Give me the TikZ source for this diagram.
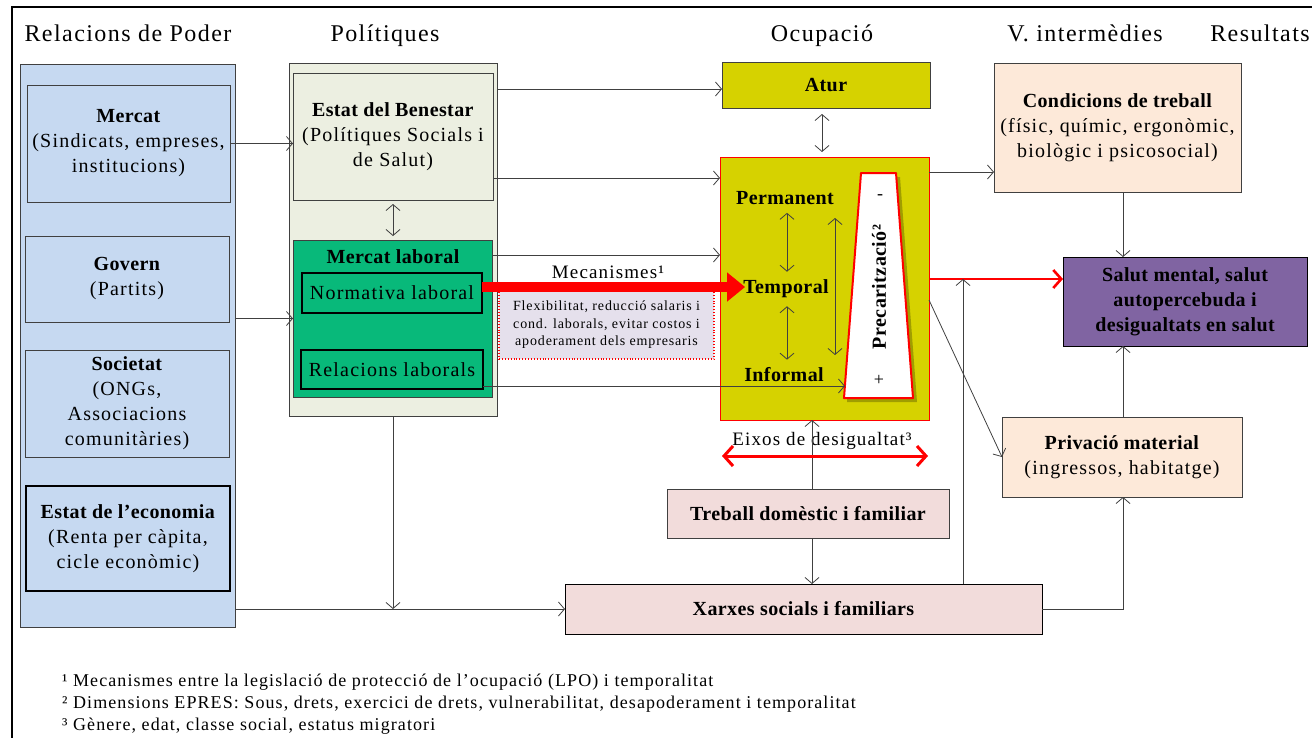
\documentclass[tikz,border=0pt]{standalone}
\usepackage{fontspec}
\setmainfont{Liberation Serif}[UprightFeatures={LetterSpace=6},BoldFeatures={LetterSpace=2}]
\usetikzlibrary{arrows.meta,calc}

\newcommand\fsz[2]{\fontsize{#1}{#2}\selectfont}

\definecolor{poderblue}{RGB}{198,217,241}
\definecolor{polgrey}{RGB}{236,239,225}
\definecolor{labgreen}{RGB}{8,185,122}
\definecolor{olive}{RGB}{214,210,0}
\definecolor{peach}{RGB}{253,233,217}
\definecolor{rosy}{RGB}{242,220,219}
\definecolor{salutpurple}{RGB}{128,100,162}
\definecolor{lavender}{RGB}{229,224,236}
\definecolor{edge}{RGB}{64,64,64}

\begin{document}
\begin{tikzpicture}[x=1pt,y=-1pt,
  >={Straight Barb[length=6pt,width=14pt]},
  conn/.style={->,draw=edge,line width=0.8pt},
  dconn/.style={<->,draw=edge,line width=0.8pt},
  box/.style={draw=edge,line width=0.9pt,anchor=north west,inner sep=0pt,
    outer sep=0pt,align=center,font=\fsz{20}{25}},
  head/.style={font=\fsz{24}{28},anchor=base},
  lbl/.style={font=\bfseries\fsz{20}{25},inner sep=0pt},
  note/.style={font=\fsz{18}{22},anchor=base west,inner sep=0pt},
  redarrow/.style={draw=red,line width=2.6pt,
    -{Straight Barb[length=8pt,width=18pt]}},
]
\useasboundingbox (0,0) rectangle (1312,737);

% outer frame
\draw[line width=1.4pt] (12,745) -- (12,7) -- (1320,7);

% column headings
\node[head] (h1) at (128,41) {Relacions de Poder};
\node[head] (h2) at (385,41) {Polítiques};
\node[head] (h3) at (822,41) {Ocupació};
\node[head] (h4) at (1085,41) {V. intermèdies};
\node[head] (h5) at (1260,41) {Resultats};

% ---- power relations column
\node[box,fill=poderblue,minimum width=215pt,minimum height=563pt] (poder) at (20,64) {};
\node[box,fill=poderblue,minimum width=203pt,minimum height=117pt] (mercat) at (27,85)
  {\textbf{Mercat}\\(Sindicats, empreses,\\institucions)};
\node[box,fill=poderblue,minimum width=204pt,minimum height=86pt] (govern) at (25,236)
  {\textbf{Govern}\\(Partits)};
\node[box,fill=poderblue,minimum width=204pt,minimum height=107pt] (societat) at (25,350)
  {\textbf{Societat}\\(ONGs,\\Associacions\\comunitàries)};
\node[box,draw=black,line width=2pt,fill=poderblue,minimum width=204pt,minimum height=105pt] (economia) at (26,486)
  {\textbf{Estat de l’economia}\\(Renta per càpita,\\cicle econòmic)};

% ---- policies column
\node[box,fill=polgrey,minimum width=208pt,minimum height=353pt] (politiques) at (289,63) {};
\node[box,fill=polgrey,minimum width=200pt,minimum height=127pt] (benestar) at (293,73)
  {\textbf{Estat del Benestar}\\(Polítiques Socials i\\de Salut)};
\node[box,fill=labgreen,minimum width=199pt,minimum height=157pt] (laboral) at (293,240) {};
\node[lbl] (laboraltitle) at (393,257) {Mercat laboral};
\node[box,draw=black,line width=2pt,fill=labgreen,minimum width=180pt,minimum height=40pt] (normativa) at (302,273)
  {Normativa laboral};
\node[box,draw=black,line width=2pt,fill=labgreen,minimum width=182pt,minimum height=39pt] (relacions) at (301,350)
  {Relacions laborals};

% mechanisms
\node[font=\fsz{19}{22},inner sep=0pt] (mecan) at (608,272) {Mecanismes¹};
\node[box,draw=red,dotted,line width=1.2pt,fill=lavender,minimum width=215pt,minimum height=68pt,
  font=\fsz{14}{17.5}] (flex) at (499,291)
  {Flexibilitat, reducció salaris i\\cond. laborals, evitar costos i\\apoderament dels empresaris};

% ---- employment column
\node[box,fill=olive,minimum width=208pt,minimum height=46pt,font=\bfseries\fsz{20}{25}] (atur) at (722,62) {Atur};
\node[box,draw=red,line width=0.9pt,fill=olive,minimum width=209pt,minimum height=263pt] (ocup) at (720,157) {};
\node[lbl] (permanent) at (785,198) {Permanent};
\node[lbl] (temporal) at (786,289) {Temporal};
\node[lbl] (informal) at (784,375) {Informal};

% precariousness wedge
\fill[black,opacity=0.25] (864,177) -- (900,177) -- (917,402) -- (847,402) -- cycle;
\draw[red,line width=2pt,fill=white,line join=round]
  (861,173) coordinate (trapTL) -- (896,173) coordinate (trapTR)
  -- (913,398) coordinate (trapBR) -- (844,398) coordinate (trapBL) -- cycle;
\node[lbl,rotate=90] (precar) at (879,287) {Precarització²};
\node[font=\fsz{18}{20},inner sep=0pt] (minus) at (880,197) {-};
\node[font=\fsz{18}{20},inner sep=0pt] (plus) at (879,380) {+};

% inequality axes
\node[font=\fsz{19}{22},inner sep=0pt] (eixos) at (822,441) {Eixos de desigualtat³};
\coordinate (eixL) at (722,456);
\coordinate (eixR) at (928,456);

\node[box,fill=rosy,minimum width=282pt,minimum height=49pt,font=\bfseries\fsz{20}{25}] (treball) at (667,489)
  {Treball domèstic i familiar};
\node[box,draw=black,fill=rosy,minimum width=477pt,minimum height=50pt,font=\bfseries\fsz{20}{25}] (xarxes) at (565,584)
  {Xarxes socials i familiars};

% ---- intermediate variables and outcomes
\node[box,fill=peach,minimum width=247pt,minimum height=129pt] (cond) at (994,63)
  {\textbf{Condicions de treball}\\(físic, químic, ergonòmic,\\biològic i psicosocial)};
\node[box,draw=black,fill=salutpurple,minimum width=244pt,minimum height=89pt,font=\bfseries\fsz{20}{25}] (salut) at (1063,257)
  {Salut mental, salut\\autopercebuda i\\desigualtats en salut};
\node[box,fill=peach,minimum width=240pt,minimum height=80pt] (priv) at (1002,417)
  {\textbf{Privació material}\\(ingressos, habitatge)};

% ---- connector end points
\coordinate (aturIn) at ($(atur.west)+(0,4)$);
\coordinate (polAtur) at (politiques.east |- aturIn);
\coordinate (benOut) at ($(benestar.south east)+(0,-22)$);
\coordinate (labOut) at ($(laboral.north east)+(0,15)$);
\coordinate (relOut) at ($(relacions.south east)+(0,-3)$);
\coordinate (trapIn) at (845,386);
\coordinate (ocupTop) at ($(ocup.north east)+(0,15)$);
\coordinate (redStart) at ($(ocup.north east)+(0,122)$);
\coordinate (ocupDiag) at ($(ocup.north east)+(0,143)$);
\coordinate (aturMid) at (822,108);
\coordinate (ocupMid) at (822,157);
\coordinate (vertX) at (812,0);
\coordinate (rightX) at (1123,0);
\coordinate (riseX) at (963,0);
\coordinate (mechY) at (0,287);

% ---- connectors
\draw[conn] (mercat.east) -- (mercat.east -| benestar.west);
\draw[conn] (laboral.west -| poder.east) -- (laboral.west);
\draw[conn] (polAtur) -- (aturIn);
\draw[conn] (benOut) -- (benOut -| ocup.west);
\draw[conn] (labOut) -- (labOut -| ocup.west);
\draw[conn] (relOut) -- (relOut -| trapIn);
\draw[dconn,shorten <=4pt,shorten >=4pt] (benestar.south) -- (benestar.south |- laboral.north);
\draw[dconn,shorten <=6pt,shorten >=5pt] (aturMid) -- (ocupMid);
\draw[dconn] ($(permanent.south)+(2,8)$) -- ($(temporal.north)+(1,-8)$);
\draw[dconn] ($(temporal.south)+(1,8)$) -- ($(informal.north)+(3,-8)$);
\draw[dconn] (835,218) coordinate (longT) -- (835,355) coordinate (longB);
\draw[conn] (politiques.south) -- (politiques.south |- xarxes.west);
\draw[conn] (xarxes.west -| poder.east) -- (xarxes.west);
\draw[conn] (treball.north -| vertX) -- (ocup.south -| vertX);
\draw[conn] (treball.south -| vertX) -- (xarxes.north -| vertX);
\draw[conn] (ocupTop) -- (ocupTop -| cond.west);
\draw[conn] (cond.south -| rightX) -- (salut.north -| rightX);
\draw[conn] (ocupDiag) -- (priv.west);
\draw[conn] (priv.north -| rightX) -- (salut.south -| rightX);
\draw[conn] (xarxes.east) -- (xarxes.east -| rightX) -- (priv.south -| rightX);
\draw[redarrow] (redStart) -- (redStart -| salut.west);
\draw[conn] (xarxes.north -| riseX) -- (redStart -| riseX);

% red arrows
\draw[draw=red,line width=10pt,-{Triangle[length=18pt,width=28pt]},shorten >=-2pt]
  (normativa.east |- mechY) -- (temporal.west |- mechY);
\draw[red,line width=3pt,{Straight Barb[length=9pt,width=20pt]}-{Straight Barb[length=9pt,width=20pt]}]
  (eixL) -- (eixR);

% footnotes
\node[note] (n1) at (62,686) {¹ Mecanismes entre la legislació de protecció de l’ocupació (LPO) i temporalitat};
\node[note] (n2) at (62,708) {² Dimensions EPRES: Sous, drets, exercici de drets, vulnerabilitat, desapoderament i temporalitat};
\node[note] (n3) at (62,730) {³ Gènere, edat, classe social, estatus migratori};
\end{tikzpicture}
\end{document}
